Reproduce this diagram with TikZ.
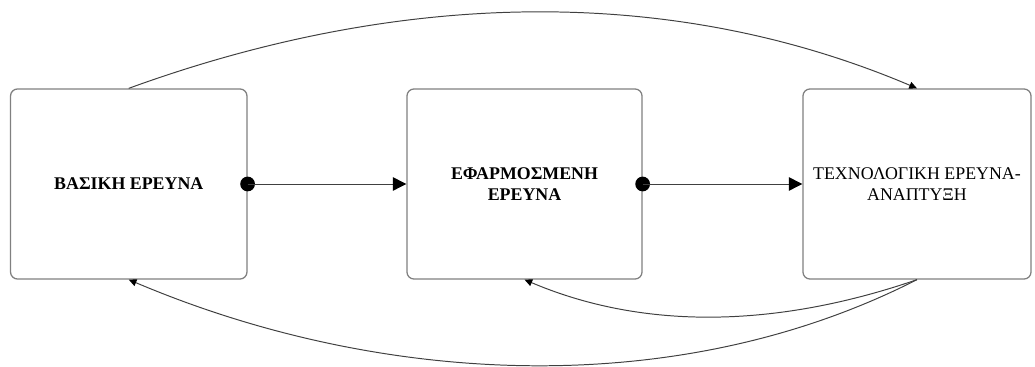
\documentclass[tikz,border=0pt]{standalone}
\usepackage{fontspec}
\setmainfont{Liberation Serif}
\usetikzlibrary{arrows.meta,positioning}
\tikzset{x=0.025cm, y=0.025cm, % one unit is one pixel of the layout
        every node/.style={ % Text size used in all boxes
            font=\fontsize{12.7}{14.5}\selectfont},
        block/.style={ % Rounded boxes
            draw=gray, line width=0.9pt,
            rounded corners=5pt,
            minimum height=4.75cm,
            align=center, inner sep=0pt},
        dot/.style={circle, fill=black, inner sep=0pt, minimum size=10.5pt},
        link/.style={ % Straight arrows between boxes
            draw=black!75, line width=0.7pt,
            -{Triangle[length=9.5pt,width=9.5pt,color=black]}},
        arc/.style={ % Curved feedback arrows
            draw=black!75, line width=0.7pt,
            -{Triangle[length=5.5pt,width=5pt,color=black]}}
        }

\begin{document}
\begin{tikzpicture}
    \useasboundingbox (0,0) rectangle (1035,367);

    \node[block, minimum width=5.91cm] (basic)   at (128.75,183) {\textbf{ΒΑΣΙΚΗ ΕΡΕΥΝΑ}};
    \node[block, minimum width=5.875cm] (applied) at (524.5,183) {\textbf{ΕΦΑΡΜΟΣΜΕΝΗ}\\\textbf{ΕΡΕΥΝΑ}};
    \node[block, minimum width=5.7cm]  (tech)    at (917,183) {ΤΕΧΝΟΛΟΓΙΚΗ ΕΡΕΥΝΑ-\\ΑΝΑΠΤΥΞΗ};

    \node[dot] (bdot) at (basic.east) {};
    \node[dot] (adot) at (applied.east) {};

    \draw[link] (bdot.center) -- (applied.west);
    \draw[link] (adot.center) -- (tech.west);

    \draw[arc] (basic.north) to[out=20, in=157, looseness=0.9] (tech.north);
    \draw[arc] (tech.south) to[out=199, in=-23, looseness=0.9] (applied.south);
    \draw[arc] (tech.south) to[out=207, in=-23, looseness=0.88] (basic.south);
\end{tikzpicture}
\end{document}
